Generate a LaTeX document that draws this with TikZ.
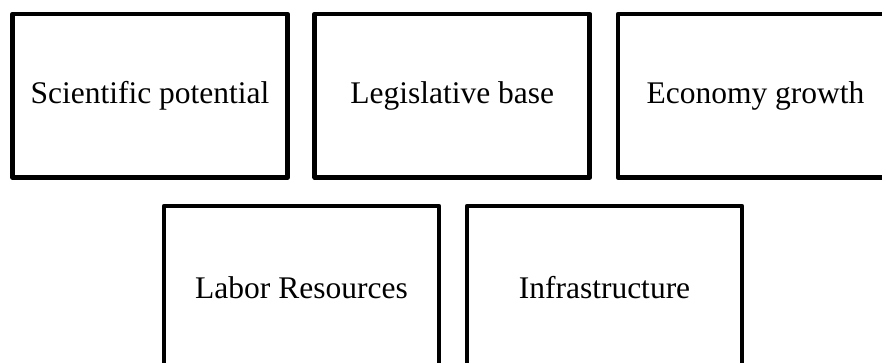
\documentclass[tikz,border=0pt]{standalone}
\usepackage{fontspec}
\setmainfont{Liberation Serif}
\usepackage{xcolor}
\usetikzlibrary{positioning}
\definecolor{ink}{HTML}{000000}
\tikzset{
  label/.style={font=\fontsize{31.5}{36}\selectfont, text=ink},
  box/.style={label, draw=ink, line width=4.6pt, line join=round, fill=white,
    minimum width=275pt, minimum height=163.5pt, inner sep=0pt, align=center}
}

\begin{document}
\begin{tikzpicture}[x=1pt,y=1pt]
\useasboundingbox (0,0) rectangle (882,363);

% upper row
\node[box] (sci) at (150,267.25) {Scientific potential};
\node[box] (leg) at (452.25,267.25) {Legislative base};
\node[box] (eco) at (755.5,267.25) {Economy growth};

% lower row
\node[box] (lab) at (301.5,75.25) {Labor Resources};
\node[box] (infra) at (604.5,75.25) {Infrastructure};

\end{tikzpicture}
\end{document}
